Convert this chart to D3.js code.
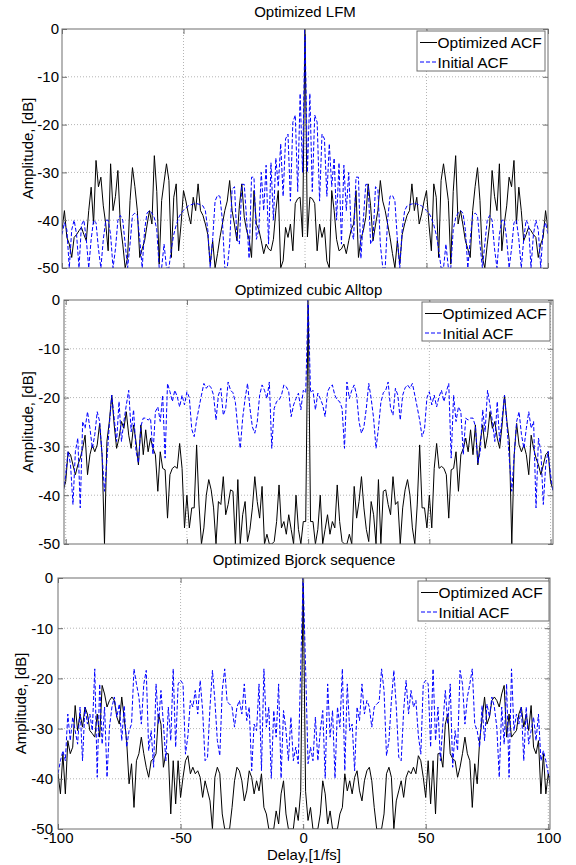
<!DOCTYPE html>
<html>
<head>
<meta charset="utf-8">
<script src="https://cdn.jsdelivr.net/npm/d3@7"></script>
<style>
  body { margin: 0; background: #fff; }
  svg { display: block; }
  text { font-family: Arial, "Liberation Sans", sans-serif; fill: #000; }
</style>
</head>
<body>
<svg id="chart" width="576" height="865"></svg>
<script>
// ACF magnitudes in dB, one-sided: entry k is the value at delay k (and -k)
const lfmOpt = [0, -43.5, -35.2, -35.5, -36.5, -46.4, -40.8, -43.6, -41.5, -48.5,
  -50, -33.8, -38, -44, -46.4, -46, -45, -47, -44.3, -42,
  -40.8, -33.8, -47.8, -44, -42.2, -39.4, -32.4, -37, -44.3, -41,
  -38, -31.7, -36, -38, -40.8, -43.6, -47, -50, -44.3, -49.2,
  -43, -40.8, -39, -38, -32.4, -38, -35.2, -40.8, -38.7, -36,
  -33.8, -40.8, -46.4, -32.4, -35.2, -47.8, -31.7, -28.2, -32, -35.9,
  -49.2, -34, -26.5, -40.8, -38, -41, -44.3, -46, -47.8, -38,
  -33, -29, -35.9, -47.8, -50, -45, -40.8, -29.6, -35, -38,
  -28.2, -46.4, -40.8, -37, -31, -33, -27.5, -40.8, -33.1, -38,
  -44.3, -43, -41.5, -42.2, -43, -43.6, -47.8, -45, -43.6, -38, -42];
const lfmInit = [0, -30, -13.5, -34, -18, -19.5, -36, -22, -23, -35,
  -24, -33, -27, -40, -28, -45, -28.5, -38, -30, -42,
  -44, -31, -31, -48, -40, -32.5, -32.5, -45, -44, -33,
  -33.5, -45, -50, -50, -40, -35, -34.8, -36, -44, -50,
  -42, -38, -37, -36.8, -36.6, -36.5, -36.6, -36.8, -37, -37.5,
  -38, -38.5, -39.5, -41, -43, -46, -50, -50, -45, -50,
  -50, -42, -39.5, -38.5, -38, -38.5, -42, -50, -44, -39,
  -38.5, -39, -45, -50, -45, -40, -39, -40, -46, -50,
  -43, -40, -40, -44, -50, -46, -40.5, -40, -44, -50,
  -44, -40, -41, -50, -43, -40, -42, -50, -42, -40.5, -43];

const alltopOpt = [0, -45.4, -45.4, -50, -47, -40, -50, -47, -44, -48,
  -45.4, -46.7, -37.9, -45.4, -49.5, -50, -50, -48, -50, -38.2,
  -44.7, -41.3, -36.2, -42.6, -47, -49.5, -41.3, -44, -50, -36.8,
  -50, -39.2, -38.9, -41.9, -44, -36.2, -41.9, -41.3, -50, -42.6,
  -38.9, -36.8, -40, -46.7, -50, -42, -29.7, -42.6, -42.6, -46.7,
  -40, -46.7, -34.5, -29.4, -34.5, -34.1, -34.5, -35.8, -44.7, -34.8,
  -34.5, -31.1, -39.2, -31.7, -30.4, -28.3, -31.1, -26.6, -31.7, -25.6,
  -33.8, -29, -25.6, -30.4, -27.7, -22.9, -26.3, -24.9, -28.3, -30.4,
  -25.6, -19.5, -24.9, -29, -50, -31.7, -25.3, -29.7, -31.1, -29.7,
  -31.7, -35.8, -27.7, -30.4, -32.4, -33.8, -35.8, -33.8, -31.7, -31.1,
  -37.2, -39];
const alltopInit = [0, -19, -18.5, -22.5, -19.1, -20.2, -21.5, -23.9, -18.8, -17.8,
  -17.4, -19.5, -20.5, -20.8, -22.2, -30.4, -16.8, -20.2, -18.5, -17.4,
  -19.5, -25, -27.3, -26, -22.2, -17.1, -20.2, -24.2, -30.4, -26.3,
  -21, -19, -18.5, -16.8, -22.2, -23.6, -18.1, -19.5, -24.6, -19.5,
  -18, -17.4, -18.1, -17.1, -19.5, -22, -24.6, -28, -26.5, -20,
  -18.8, -21.5, -19.5, -21.9, -19.8, -18.5, -20.8, -18.8, -17.1, -32.4,
  -19.5, -24.9, -21.9, -22.9, -31.7, -24.2, -24.6, -24.2, -24.2, -25.9,
  -33.4, -31, -22.5, -27, -18.5, -21.5, -24.9, -29, -20.8, -29,
  -24.2, -19.5, -25.6, -32.8, -39.2, -31.7, -24.9, -22.9, -27.6, -30.4,
  -26.3, -22.9, -26.3, -24.9, -42.6, -28.3, -31, -41.9, -33.8, -31,
  -35.8, -39.2];

const bjorckOpt = [0, -42.5, -48.3, -45.7, -50, -50, -50, -47, -40.4, -43,
  -49, -46.4, -50, -50, -50, -47, -45.7, -39, -42.4, -40.4,
  -43, -39.7, -38.4, -42.4, -44.4, -40.4, -38.4, -37.7, -40.4, -45.7,
  -50, -50, -50, -47, -39, -37.7, -39.7, -50, -44.4, -42.4,
  -40.4, -43.7, -39.7, -38.4, -39, -37.7, -39, -35.4, -36.4, -39.7,
  -43.7, -36.4, -45, -36.4, -47, -35, -35, -37.7, -29.1, -27.1,
  -35, -36, -36.4, -39.7, -37.7, -35, -31.7, -35, -36.4, -45.7,
  -37, -41, -32.4, -28, -23.7, -29.1, -27.7, -24.4, -23.7, -24.4,
  -25.7, -23.1, -21.4, -31.7, -27.1, -31.7, -31, -30.4, -27.1, -25.7,
  -29.7, -27.1, -30.4, -25.4, -33.7, -35, -32.4, -43, -35, -43,
  -39, -42];
const bjorckInit = [0, -17.8, -37, -33.7, -36.4, -27.7, -36.4, -30.4, -26.4, -39.9,
  -21.1, -31.7, -26.4, -39.9, -25.7, -29.7, -18.1, -38.4, -21.1, -30.4,
  -29.1, -38.4, -25.7, -28.4, -21.1, -27.1, -24.4, -25.7, -29.7, -25.7,
  -25.1, -24.7, -18.1, -22.4, -35.4, -32.4, -24.4, -18.4, -25.7, -35.7,
  -36.4, -26.4, -20.4, -27.1, -22.4, -25.7, -24.4, -31.4, -35.1, -21.1,
  -20.4, -21.1, -33.7, -18.1, -32.4, -25.7, -36.4, -29, -22.4, -29.1,
  -21.1, -37.7, -30.4, -34.4, -18.4, -21.1, -29.1, -23.7, -21.1, -18.1,
  -29.1, -30.4, -33.7, -25.4, -32.4, -25.1, -27.7, -23.7, -25.7, -29.7,
  -39.7, -25.7, -33.1, -21.1, -39.7, -18.1, -30.4, -27.1, -29.1, -25.7,
  -36.4, -25.7, -33.1, -30.4, -27.7, -32.4, -27.1, -36.4, -34.4, -36.4,
  -39, -40];

const yTicks = [0, -10, -20, -30, -40, -50];
const xTicks = [-100, -50, 0, 50, 100];
const legendNames = ['Optimized ACF', 'Initial ACF'];
const yLabel = 'Amplitude, [dB]';
const xLabel = 'Delay,[1/fs]';

// the magnitude of an ACF is even in the delay
function mirror(half) {
  const pts = half.map(function (v, k) { return { d: k, v: v }; });
  const neg = pts.slice(1).reverse().map(function (p) { return { d: -p.d, v: p.v }; });
  return neg.concat(pts);
}

const panels = [
  { title: 'Optimized LFM', opt: lfmOpt, init: lfmInit,
    left: 62, right: 548, top: 29, bottom: 268, dom: [-100, 100],
    titleY: 17, labPad: 3, labX: 28, legend: { x: 417, y: 31, w: 128, h: 40 }, xLabels: false },
  { title: 'Optimized cubic Alltop', opt: alltopOpt, init: alltopInit,
    left: 64, right: 553, top: 300, bottom: 544, dom: [-100.7, 101],
    titleY: 295, labPad: 4, labX: 28, legend: { x: 422, y: 302, w: 128, h: 39 }, xLabels: false },
  { title: 'Optimized Bjorck sequence', opt: bjorckOpt, init: bjorckInit,
    left: 58, right: 550, top: 578, bottom: 829, dom: [-100, 100.7],
    titleY: 565, labPad: 5, labX: 21, legend: { x: 418, y: 581, w: 131, h: 40 }, xLabels: true }
];

const svg = d3.select('#chart');
const defs = svg.append('defs');
const axisColor = '#6e6e6e';
const gridColor = '#b4b4b4';

panels.forEach(function (p, i) {
  const x = d3.scaleLinear().domain(p.dom).range([p.left, p.right]);
  const y = d3.scaleLinear().domain([-50, 0]).range([p.bottom, p.top]);
  const g = svg.append('g');
  const xIn = xTicks.filter(function (t) { return t >= p.dom[0] && t <= p.dom[1]; });

  defs.append('clipPath').attr('id', 'clip' + i)
    .append('rect')
    .attr('x', p.left).attr('y', p.top)
    .attr('width', p.right - p.left).attr('height', p.bottom - p.top);

  // dotted grid
  g.append('g').selectAll('line')
    .data(xTicks.filter(function (t) { return t > p.dom[0] && t < p.dom[1]; }))
    .enter().append('line')
    .attr('x1', function (d) { return x(d); }).attr('x2', function (d) { return x(d); })
    .attr('y1', p.top).attr('y2', p.bottom)
    .attr('stroke', gridColor).attr('stroke-dasharray', '1,2');
  g.append('g').selectAll('line')
    .data(yTicks.filter(function (t) { return t > -50 && t < 0; }))
    .enter().append('line')
    .attr('y1', function (d) { return y(d); }).attr('y2', function (d) { return y(d); })
    .attr('x1', p.left).attr('x2', p.right)
    .attr('stroke', gridColor).attr('stroke-dasharray', '1,2');

  const line = d3.line()
    .x(function (d) { return x(d.d); })
    .y(function (d) { return y(d.v); });

  const plot = g.append('g').attr('clip-path', 'url(#clip' + i + ')');
  plot.append('path')
    .attr('d', line(mirror(p.opt)))
    .attr('fill', 'none').attr('stroke', '#000').attr('stroke-width', 1);
  plot.append('path')
    .attr('d', line(mirror(p.init)))
    .attr('fill', 'none').attr('stroke', '#0000ff').attr('stroke-width', 1)
    .attr('stroke-dasharray', '4,2');

  // axes, ticks pointing inward
  g.append('g').attr('transform', 'translate(' + p.left + ',0)')
    .attr('color', axisColor)
    .call(d3.axisLeft(y).tickValues(yTicks).tickSize(-5).tickPadding(p.labPad)
      .tickFormat(function (d) { return String(d); }));
  g.append('g').attr('transform', 'translate(' + p.right + ',0)')
    .attr('color', axisColor)
    .call(d3.axisRight(y).tickValues(yTicks).tickSize(-5).tickFormat(''));
  g.append('g').attr('transform', 'translate(0,' + p.bottom + ')')
    .attr('color', axisColor)
    .call(d3.axisBottom(x).tickValues(xIn).tickSize(-5).tickPadding(3)
      .tickFormat(p.xLabels ? function (d) { return String(d); } : ''));
  g.append('g').attr('transform', 'translate(0,' + p.top + ')')
    .attr('color', axisColor)
    .call(d3.axisTop(x).tickValues(xIn).tickSize(-5).tickFormat(''));
  g.selectAll('.domain').remove();
  g.selectAll('.tick text').attr('fill', '#000').style('font-size', '15px')
    .style('font-family', 'Arial, "Liberation Sans", sans-serif');

  g.append('rect')
    .attr('x', p.left).attr('y', p.top)
    .attr('width', p.right - p.left).attr('height', p.bottom - p.top)
    .attr('fill', 'none').attr('stroke', axisColor).attr('stroke-width', 1);

  g.append('text')
    .attr('x', (p.left + p.right) / 2).attr('y', p.titleY)
    .attr('text-anchor', 'middle').style('font-size', '15px')
    .text(p.title);

  g.append('text')
    .attr('transform', 'translate(' + p.labX + ',' + ((p.top + p.bottom) / 2) + ') rotate(-90)')
    .attr('text-anchor', 'middle').attr('dy', '0.35em').style('font-size', '15px')
    .text(yLabel);

  // legend
  const L = p.legend;
  const lg = g.append('g');
  lg.append('rect').attr('x', L.x).attr('y', L.y).attr('width', L.w).attr('height', L.h)
    .attr('fill', '#fff').attr('stroke', axisColor);
  const rows = [
    { name: legendNames[0], color: '#000', dash: null },
    { name: legendNames[1], color: '#0000ff', dash: '4,2' }
  ];
  lg.selectAll('.row').data(rows).enter().append('g').attr('class', 'row')
    .each(function (r, j) {
      const cy = L.y + 11.5 + j * 19.5;
      const s = d3.select(this);
      s.append('line').attr('x1', L.x + 3).attr('x2', L.x + 20)
        .attr('y1', cy).attr('y2', cy)
        .attr('stroke', r.color).attr('stroke-dasharray', r.dash);
      s.append('text').attr('x', L.x + 20.5).attr('y', cy).attr('dy', '0.36em')
        .style('font-size', '15.5px').text(r.name);
    });

  if (p.xLabels) {
    g.append('text')
      .attr('x', (p.left + p.right) / 2).attr('y', 860)
      .attr('text-anchor', 'middle').style('font-size', '15px')
      .text(xLabel);
  }
});
</script>
</body>
</html>
